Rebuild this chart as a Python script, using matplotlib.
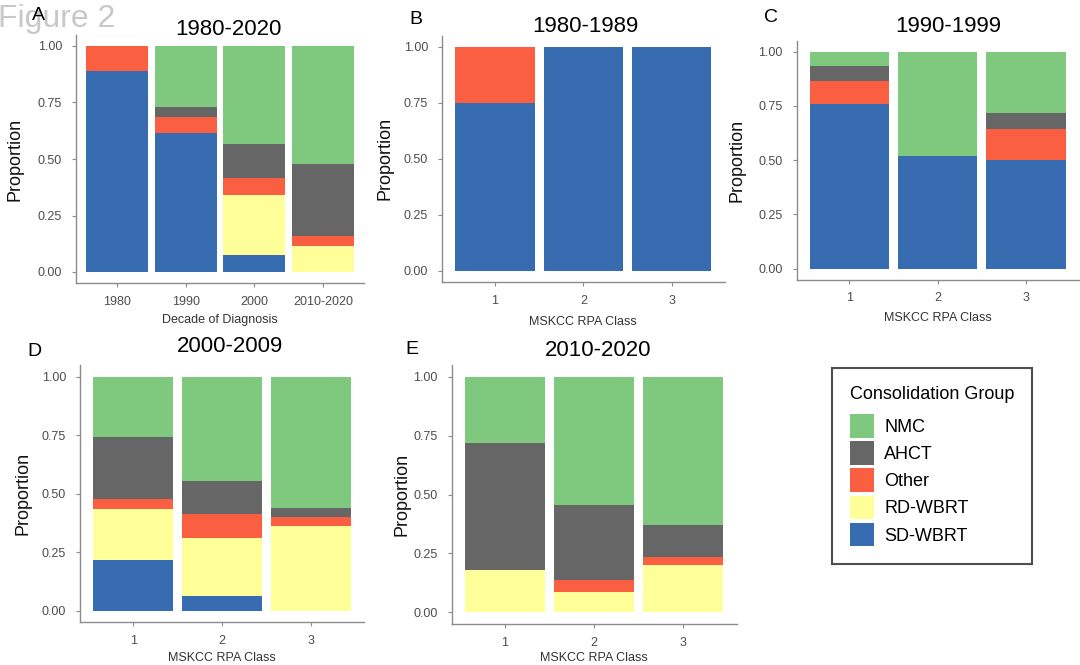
import numpy as np
import matplotlib.pyplot as plt
from matplotlib.patches import Patch

plt.rcParams['font.family'] = ['Liberation Sans', 'DejaVu Sans']

groups = ["NMC", "AHCT", "Other", "RD-WBRT", "SD-WBRT"]
colors = {"NMC": "#7fc97f", "AHCT": "#666666", "Other": "#fa5f41",
          "RD-WBRT": "#ffff99", "SD-WBRT": "#386cb0"}

# panel A: by decade
a_cats = ["1980", "1990", "2000", "2010-2020"]
a_sd = [0.89, 0.614, 0.075, 0.0]
a_rd = [0.0, 0.0, 0.266, 0.116]
a_other = [0.11, 0.073, 0.076, 0.042]
a_ahct = [0.0, 0.042, 0.149, 0.321]
a_nmc = [0.0, 0.271, 0.434, 0.521]

rpa = ["1", "2", "3"]

# panel B: 1980-1989
b_sd = [0.75, 1.0, 1.0]
b_rd = [0.0, 0.0, 0.0]
b_other = [0.25, 0.0, 0.0]
b_ahct = [0.0, 0.0, 0.0]
b_nmc = [0.0, 0.0, 0.0]

# panel C: 1990-1999
c_sd = [0.759, 0.518, 0.5]
c_rd = [0.0, 0.0, 0.0]
c_other = [0.107, 0.0, 0.145]
c_ahct = [0.067, 0.0, 0.071]
c_nmc = [0.067, 0.482, 0.284]

# panel D: 2000-2009
d_sd = [0.218, 0.061, 0.0]
d_rd = [0.216, 0.25, 0.36]
d_other = [0.045, 0.101, 0.04]
d_ahct = [0.262, 0.142, 0.04]
d_nmc = [0.259, 0.446, 0.56]

# panel E: 2010-2020
e_sd = [0.0, 0.0, 0.0]
e_rd = [0.18, 0.085, 0.20]
e_other = [0.0, 0.052, 0.036]
e_ahct = [0.537, 0.32, 0.133]
e_nmc = [0.283, 0.543, 0.631]

W, H = 1080, 665
fig = plt.figure(figsize=(W / 100, H / 100), dpi=100)


def px_axes(left, top, right, bottom):
    return fig.add_axes([left / W, 1 - bottom / H, (right - left) / W, (bottom - top) / H])


def ftext(x, y, s, **kw):
    fig.text(x / W, 1 - y / H, s, ha="center", va="center", **kw)


def stacked(ax, cats, sd, rd, other, ahct, nmc, xlabel, ylab_x, xlab_y):
    x = np.arange(len(cats))
    bottom = np.zeros(len(cats))
    for name, vals in [("SD-WBRT", sd), ("RD-WBRT", rd), ("Other", other),
                       ("AHCT", ahct), ("NMC", nmc)]:
        vals = np.array(vals)
        ax.bar(x, vals, bottom=bottom, width=0.9, color=colors[name], linewidth=0)
        bottom += vals
    ax.set_xlim(-0.6, len(cats) - 0.4)
    ax.set_ylim(-0.05, 1.05)
    ax.set_xticks(x)
    ax.set_xticklabels(cats)
    ax.set_yticks([0, 0.25, 0.5, 0.75, 1.0])
    ax.set_yticklabels(["0.00", "0.25", "0.50", "0.75", "1.00"])
    for s in ["top", "right"]:
        ax.spines[s].set_visible(False)
    for s in ["left", "bottom"]:
        ax.spines[s].set_color("#8c8c8c")
        ax.spines[s].set_linewidth(1.0)
    ax.tick_params(colors="#8c8c8c", labelcolor="#4d4d4d", labelsize=9,
                   length=3, width=0.8)
    ax.tick_params(axis="y", pad=7)
    ax.tick_params(axis="x", pad=6)
    ax.set_ylabel("Proportion", fontsize=13, color="#111111")
    ax.yaxis.set_label_coords(ylab_x, 0.5)
    ax.set_xlabel(xlabel, fontsize=9, color="#333333")
    ax.xaxis.set_label_coords(0.5, xlab_y)


axA = px_axes(76, 34.7, 364, 283.3)
stacked(axA, a_cats, a_sd, a_rd, a_other, a_ahct, a_nmc, "Decade of Diagnosis", -0.184, -0.123)
axB = px_axes(442, 35.5, 724.7, 282.2)
stacked(axB, rpa, b_sd, b_rd, b_other, b_ahct, b_nmc, "MSKCC RPA Class", -0.17, -0.136)
axC = px_axes(796.5, 40.8, 1079, 279.5)
stacked(axC, rpa, c_sd, c_rd, c_other, c_ahct, c_nmc, "MSKCC RPA Class", -0.179, -0.136)
axD = px_axes(80, 365, 364, 622.4)
stacked(axD, rpa, d_sd, d_rd, d_other, d_ahct, d_nmc, "MSKCC RPA Class", -0.172, -0.115)
axE = px_axes(451.5, 364.9, 736.8, 624.1)
stacked(axE, rpa, e_sd, e_rd, e_other, e_ahct, e_nmc, "MSKCC RPA Class", -0.142, -0.108)

# titles
ftext(228, 29.5, "1980-2020", fontsize=16)
ftext(585, 26.5, "1980-1989", fontsize=16)
ftext(948, 26, "1990-1999", fontsize=16)
ftext(230, 347, "2000-2009", fontsize=16)
ftext(598, 350, "2010-2020", fontsize=16)

# figure label and panel letters
fig.text(-2 / W, 1 - 19 / H, "Figure 2", fontsize=23, color="#c8c8c8", ha="left", va="center")
ftext(38, 15, "A", fontsize=14)
ftext(416, 20, "B", fontsize=14)
ftext(771, 17, "C", fontsize=14)
ftext(34, 352, "D", fontsize=14)
ftext(412, 350, "E", fontsize=14)

handles = [Patch(facecolor=colors[g], edgecolor="none", label=g) for g in groups]
leg = fig.legend(handles=handles, title="Consolidation Group", loc="upper left",
                 bbox_to_anchor=(832 / W, 1 - 368 / H), fontsize=13, title_fontsize=13,
                 frameon=True, fancybox=False, edgecolor="#222222",
                 handlelength=1.33, handleheight=1.63, labelspacing=0.2,
                 handletextpad=0.55, borderpad=1.0, borderaxespad=0)
leg.get_frame().set_linewidth(1.5)
leg._legend_box.align = "left"
leg._legend_box.sep = 8  # extra room under the title

fig.savefig("out.png", dpi=100, facecolor="white")
